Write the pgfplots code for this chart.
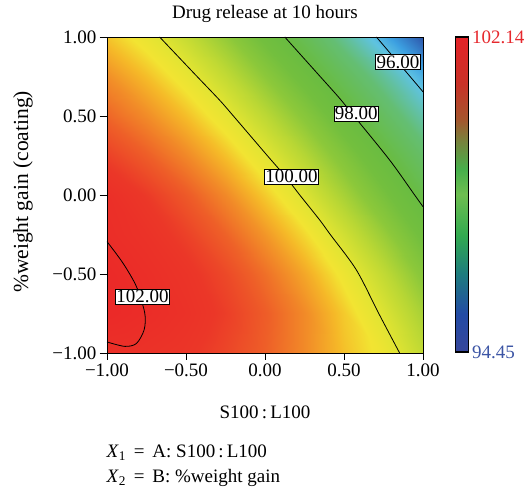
\documentclass[border=0pt]{standalone}
\usepackage{fontspec}
\setmainfont{Liberation Serif}
\usepackage{pgfplots}
\pgfplotsset{compat=1.18}
\usepackage{pgfplotstable}
\newcommand\ff{\fontsize{19}{23}\selectfont}
\definecolor{cbred}{RGB}{230,40,45}
\definecolor{cbblue}{RGB}{60,85,165}

\pgfplotsset{
  colormap={surfmap}{
    rgb255(0)=(45,85,170)
    rgb255(100)=(60,160,225)
    rgb255(155)=(95,195,225)
    rgb255(255)=(100,190,115)
    rgb255(355)=(105,188,65)
    rgb255(405)=(115,191,62)
    rgb255(455)=(140,200,58)
    rgb255(505)=(185,215,52)
    rgb255(555)=(225,228,50)
    rgb255(585)=(242,228,50)
    rgb255(615)=(245,185,40)
    rgb255(645)=(242,145,40)
    rgb255(685)=(238,95,40)
    rgb255(725)=(235,55,40)
    rgb255(769)=(235,40,40)
  },
  colormap={barmap}{
    rgb255(0)=(55,70,155)
    rgb255(120)=(35,75,165)
    rgb255(250)=(30,125,125)
    rgb255(370)=(50,170,80)
    rgb255(500)=(110,190,80)
    rgb255(580)=(70,175,75)
    rgb255(670)=(120,130,60)
    rgb255(740)=(165,85,45)
    rgb255(850)=(200,50,40)
    rgb255(1000)=(228,35,40)
  },
}

\pgfplotstableread{
x y z
-1 -1 101.90
-0.75 -1 101.85
-0.5 -1 101.75
-0.25 -1 101.55
0 -1 101.30
0.25 -1 100.95
0.5 -1 100.55
0.75 -1 100.20
1 -1 99.60
-1 -0.75 102.10
-0.75 -0.75 102.00
-0.5 -0.75 101.86
-0.25 -0.75 101.63
0 -0.75 101.33
0.25 -0.75 100.95
0.5 -0.75 100.48
0.75 -0.75 99.93
1 -0.75 99.30
-1 -0.5 102.10
-0.75 -0.5 101.95
-0.5 -0.5 101.78
-0.25 -0.5 101.52
0 -0.5 101.17
0.25 -0.5 100.73
0.5 -0.5 100.21
0.75 -0.5 99.60
1 -0.5 98.90
-1 -0.25 101.98
-0.75 -0.25 101.84
-0.5 -0.25 101.60
-0.25 -0.25 101.27
0 -0.25 100.86
0.25 -0.25 100.37
0.5 -0.25 99.79
0.75 -0.25 99.13
1 -0.25 98.39
-1 0 101.93
-0.75 0 101.68
-0.5 0 101.36
-0.25 0 100.96
0 0 100.48
0.25 0 99.93
0.5 0 99.30
0.75 0 98.60
1 0 97.83
-1 0.25 101.60
-0.75 0.25 101.32
-0.5 0.25 100.97
-0.25 0.25 100.54
0 0.25 100.03
0.25 0.25 99.45
0.5 0.25 98.79
0.75 0.25 98.05
1 0.25 97.23
-1 0.5 101.25
-0.75 0.5 100.95
-0.5 0.5 100.57
-0.25 0.5 100.10
0 0.5 99.55
0.25 0.5 98.92
0.5 0.5 98.20
0.75 0.5 97.39
1 0.5 96.50
-1 0.75 100.92
-0.75 0.75 100.57
-0.5 0.75 100.14
-0.25 0.75 99.61
0 0.75 99.00
0.25 0.75 98.30
0.5 0.75 97.51
0.75 0.75 96.64
1 0.75 95.67
-1 1 100.52
-0.75 1 100.15
-0.5 1 99.67
-0.25 1 99.08
0 1 98.39
0.25 1 97.59
0.5 1 96.68
0.75 1 95.62
1 1 94.45
}\surfdata

\begin{document}
\begin{tikzpicture}[font=\ff]
\useasboundingbox (-107pt,-141pt) rectangle (425pt,353pt);
\begin{axis}[
  at={(0pt,0pt)}, anchor=south west,
  scale only axis, width=316pt, height=316pt,
  view={0}{90},
  xmin=-1, xmax=1, ymin=-1, ymax=1,
  xtick={-1,-0.5,0,0.5,1}, ytick={-1,-0.5,0,0.5,1},
  xticklabels={−1.00,−0.50,0.00,0.50,1.00},
  yticklabels={−1.00,−0.50,0.00,0.50,1.00},
  ztick=\empty,
  tick align=outside, major tick length=7pt,
  xtick pos=left, ytick pos=left,
  axis line style={line width=0.8pt},
  tick style={line width=0.8pt, black},
  colormap name=surfmap,
  point meta min=94.45, point meta max=102.14,
  colorbar,
  colorbar style={
    colormap name=barmap,
    at={(parent axis.north east)}, anchor=north west, xshift=24pt,
    width=13pt, height=315pt,
    ytick={94.45,102.14},
    yticklabels={\textcolor{cbblue}{94.45},\textcolor{cbred}{102.14}},
    major tick length=0pt,
    axis line style={line width=1.2pt},
  },
  axis on top,
  clip=false,
]
\addplot3[surf, shader=interp, mesh/rows=9, mesh/cols=9] table {\surfdata};
% contour lines
\addplot3[black, line width=0.8pt, smooth, no marks] coordinates {
(-0.667,1,103) (-0.43,0.75,103) (-0.287,0.6,103) (-0.20,0.5,103) (0.014,0.25,103) (0.13,0.116,103) (0.22,0,103) (0.346,-0.158,103) (0.413,-0.25,103) (0.578,-0.474,103) (0.72,-0.75,103) (0.852,-1,103)};
\addplot3[black, line width=0.8pt, smooth, no marks] coordinates {
(0.125,1,103) (0.349,0.75,103) (0.473,0.611,103) (0.563,0.5,103) (0.789,0.221,103) (0.947,0,103) (1,-0.074,103)};
\addplot3[black, line width=0.8pt, smooth, no marks] coordinates {
(0.705,1,103) (0.918,0.75,103) (1,0.653,103)};
\addplot3[black, line width=0.8pt, smooth, no marks] coordinates {
(-1,-0.295,103) (-0.899,-0.431,103) (-0.814,-0.579,103) (-0.761,-0.747,103) (-0.765,-0.853,103) (-0.814,-0.940,103) (-0.888,-0.958,103) (-1,-0.93,103)};
\node[draw=black, fill=white, line width=0.5pt, inner sep=1pt] at (axis cs:0.842,0.842,103) {96.00};
\node[draw=black, fill=white, line width=0.5pt, inner sep=1pt] at (axis cs:0.578,0.516,103) {98.00};
\node[draw=black, fill=white, line width=0.5pt, inner sep=1pt] at (axis cs:0.167,0.116,103) {100.00};
\node[draw=black, fill=white, line width=0.5pt, inner sep=1pt] at (axis cs:-0.776,-0.642,103) {102.00};
\end{axis}
\node at (158pt,339pt) {Drug release at 10 hours};
\node at (158pt,-59pt) {S100\,:\,L100};
\node[rotate=90, font=\fontsize{21.5}{25}\selectfont] at (-84pt,161pt) {\%weight gain (coating)};
\node[anchor=west] at (-4pt,-100pt) {\textit{X}\textsubscript{1} \,=\, A: S100\,:\,L100};
\node[anchor=west] at (-4pt,-125pt) {\textit{X}\textsubscript{2} \,=\, B: \%weight gain};
\end{tikzpicture}
\end{document}
